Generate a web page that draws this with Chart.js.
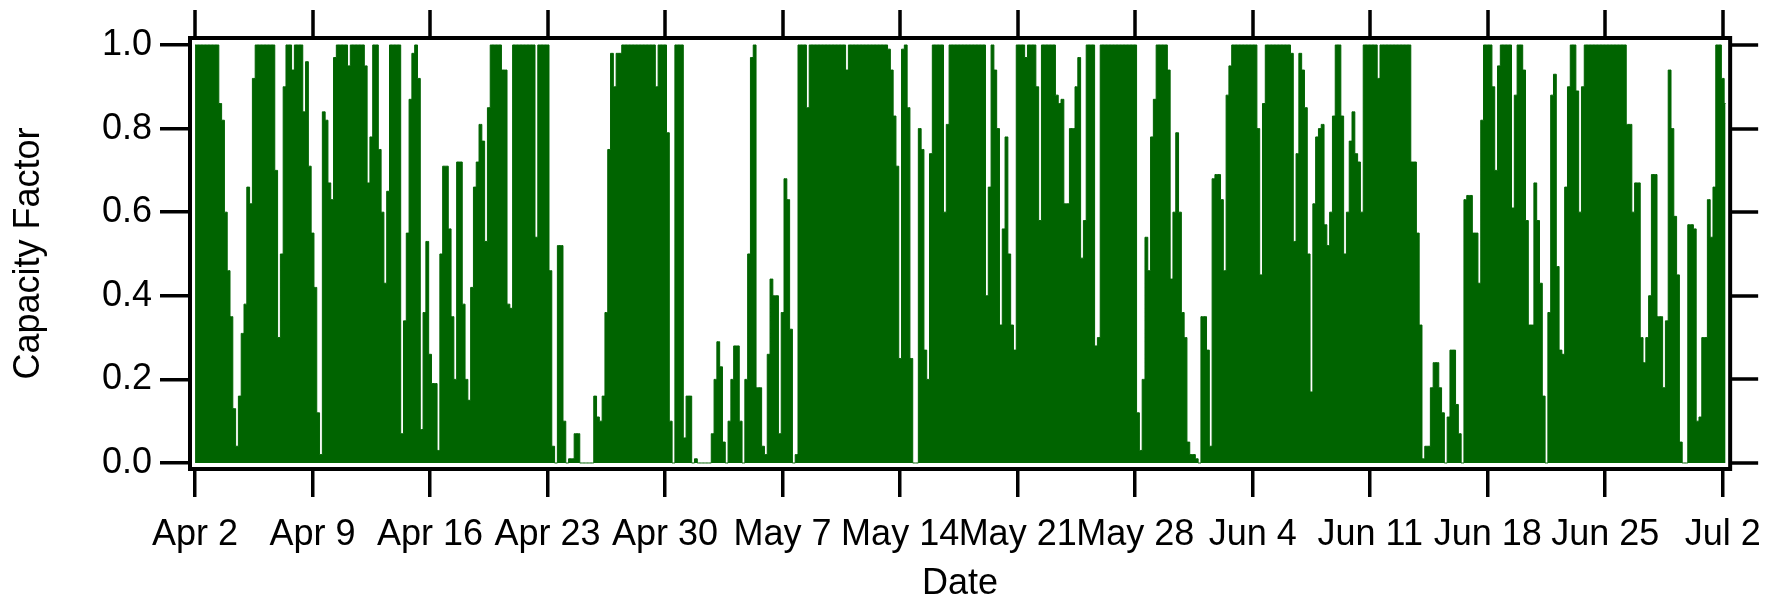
<!DOCTYPE html>
<html>
<head>
<meta charset="utf-8">
<title>Capacity Factor</title>
<script src="https://cdn.jsdelivr.net/npm/chart.js@4.4.1/dist/chart.umd.min.js"></script>
<style>
html,body{margin:0;padding:0;background:#fff;}
#wrap{width:1777px;height:600px;position:relative;}
</style>
</head>
<body>
<div id="wrap"><canvas id="cfChart"></canvas></div>
<script>
// 4-hourly samples starting Apr 2 00:00, one day per row
const stepDays=1/6;
const tickDays=[0,7,14,21,28,35,42,49,56,63,70,77,84,91];
const tickLabels=['Apr 2','Apr 9','Apr 16','Apr 23','Apr 30','May 7','May 14','May 21','May 28','Jun 4','Jun 11','Jun 18','Jun 25','Jul 2'];
const yTicks=[0,0.2,0.4,0.6,0.8,1.0];
const capacityFactor=[
1,1,1,1,1,1,
1,1,1,0.86,0.82,0.6,
0.46,0.35,0.13,0.04,0.16,0.31,
0.38,0.66,0.62,0.92,1,1,
1,1,1,1,1,0.7,
0.3,0.5,0.9,1,1,0.94,
1,1,1,0.84,0.96,0.71,
0.55,0.42,0.12,0.02,0.84,0.82,
0.67,0.63,0.97,1,1,1,
1,0.95,1,1,1,1,
1,0.95,0.67,0.78,1,1,
0.75,0.6,0.43,0.65,1,1,
1,1,0.07,0.34,0.55,0.87,
0.98,1,0.92,0.08,0.36,0.53,
0.26,0.19,0.19,0.03,0.5,0.71,
0.71,0.56,0.35,0.2,0.72,0.72,
0.38,0.2,0.15,0.42,0.66,0.72,
0.81,0.77,0.53,0.85,1,1,
1,1,0.94,0.94,0.38,0.37,
1,1,1,1,1,1,
1,1,0.54,1,1,1,
1,0.46,0.04,0,0.52,0.52,
0.1,0,0.01,0.01,0.07,0.07,
0,0,0,0,0,0.16,
0.11,0.1,0.16,0.36,0.75,0.98,
0.9,0.98,0.98,1,1,1,
1,1,1,1,1,1,
1,1,1,0.9,1,1,
1,0.79,0.1,0,1,1,
1,0.06,0.16,0.16,0,0.01,
0,0,0,0,0,0.07,
0.2,0.29,0.23,0.05,0,0.1,
0.2,0.28,0.28,0.1,0,0.2,
0.5,0.97,1,0.18,0.18,0.04,
0.02,0.26,0.44,0.4,0.4,0.07,
0.36,0.68,0.63,0.32,0,0.02,
1,1,1,0.85,1,1,
1,1,1,1,1,1,
1,1,1,1,1,0.94,
1,1,1,1,1,1,
1,1,1,1,1,1,
1,1,0.99,0.94,0.83,0.71,
0.25,0.99,1,0.85,0.25,0,
0,0.8,0.75,0.27,0.2,0.74,
1,1,1,1,0.6,0.81,
1,1,1,1,1,1,
1,1,1,1,1,1,
1,0.4,0.66,1,0.94,0.8,
0.33,0.56,0.78,0.5,0.33,0.27,
1,1,1,0.97,1,1,
1,0.9,0.58,1,1,1,
1,1,0.88,0.86,0.87,0.62,
0.62,0.8,0.8,0.9,0.97,0.49,
0.58,1,1,1,0.28,0.3,
1,1,1,1,1,1,
1,1,1,1,1,1,
1,0.12,0.03,0.2,0.54,0.46,
0.78,0.87,1,1,1,1,
0.94,0.44,0.6,0.79,0.6,0.36,
0.3,0.05,0.02,0.02,0.01,0,
0.35,0.35,0.27,0.04,0.68,0.69,
0.69,0.63,0.46,0.88,0.95,1,
1,1,1,1,1,1,
1,1,0.8,0.45,0.86,1,
1,1,1,1,1,1,
1,1,0.98,0.53,0.74,0.98,
0.94,0.85,0.5,0.17,0.62,0.78,
0.8,0.81,0.57,0.52,0.6,0.83,
1,1,0.83,0.5,0.6,0.77,
0.84,0.74,0.72,0.6,1,1,
1,1,1,0.92,1,1,
1,1,1,1,1,1,
1,1,1,0.72,0.72,0.55,
0.33,0.01,0.04,0.04,0.18,0.24,
0.24,0.18,0.12,0,0.11,0.27,
0.27,0.14,0.07,0,0.63,0.64,
0.64,0.55,0.55,0.43,0.82,1,
1,1,0.9,0.7,0.95,1,
1,1,1,0.61,0.88,1,
1,0.94,0.58,0.33,0.33,0.67,
0.58,0.43,0.16,0,0.36,0.88,
0.93,0.47,0.27,0.26,0.66,0.9,
1,1,0.89,0.6,0.9,1,
1,1,1,1,1,1,
1,1,1,1,1,1,
1,1,0.81,0.81,0.6,0.67,
0.67,0.3,0.24,0.3,0.4,0.69,
0.69,0.35,0.35,0.18,0.34,0.94,
0.8,0.59,0.45,0.05,0,0,
0.57,0.57,0.56,0.1,0.11,0.3,
0.3,0.63,0.54,0.66,1,1,
0.92,0.86
];

const fillColor='#006400';
const tickLen=28;

// closes the box on top/right and mirrors the tick marks there
const mirrorFrame={
    id:'mirrorFrame',
    afterDraw(chart){
        const {ctx,chartArea:a,scales:{x,y}}=chart;
        ctx.save();
        ctx.strokeStyle='#000';
        ctx.lineWidth=4;
        ctx.beginPath();
        ctx.moveTo(a.left-2,a.top);
        ctx.lineTo(a.right,a.top);
        ctx.lineTo(a.right,a.bottom+2);
        ctx.stroke();
        ctx.lineWidth=3.5;
        ctx.beginPath();
        tickDays.forEach(d=>{const px=Math.round(x.getPixelForValue(d));ctx.moveTo(px,a.top);ctx.lineTo(px,a.top-tickLen);});
        yTicks.forEach(v=>{const py=Math.round(y.getPixelForValue(v));ctx.moveTo(a.right,py);ctx.lineTo(a.right+tickLen,py);});
        ctx.stroke();
        ctx.restore();
    }
};

Chart.defaults.font.family="'Liberation Sans', Arial, sans-serif";
Chart.defaults.font.size=36;
Chart.defaults.color='#000';

new Chart(document.getElementById('cfChart'),{
    type:'line',
    data:{datasets:[{
        data:capacityFactor.map((v,i)=>({x:i*stepDays,y:v})),
        borderColor:fillColor,
        backgroundColor:fillColor,
        borderWidth:1,
        fill:'origin',
        stepped:'middle',
        pointRadius:0
    }]},
    options:{
        responsive:true,
        maintainAspectRatio:false,
        animation:false,
        devicePixelRatio:1,
        layout:{padding:{top:38,right:44,left:0,bottom:0}},
        plugins:{legend:{display:false},tooltip:{enabled:false}},
        scales:{
            x:{
                type:'linear',min:-0.3,max:91.44,
                afterBuildTicks:s=>{s.ticks=tickDays.map(v=>({value:v}));},
                afterFit:s=>{s.height=131;},
                ticks:{autoSkip:false,maxRotation:0,minRotation:0,padding:16,callback:(v,i)=>tickLabels[i]},
                grid:{drawOnChartArea:false,drawTicks:true,tickLength:tickLen,color:'#000',lineWidth:3.5},
                border:{display:true,color:'#000',width:4},
                title:{display:true,text:'Date',font:{size:36,lineHeight:0.9},padding:{top:0,bottom:0}}
            },
            y:{
                min:-0.0144,max:1.0167,
                afterBuildTicks:s=>{s.ticks=yTicks.map(v=>({value:v}));},
                afterFit:s=>{s.width=190;},
                ticks:{padding:8,callback:v=>v.toFixed(1)},
                grid:{drawOnChartArea:false,drawTicks:true,tickLength:tickLen+2,color:'#000',lineWidth:3.5},
                border:{display:true,color:'#000',width:4},
                title:{display:true,text:'Capacity Factor',font:{size:36,lineHeight:1},padding:{top:11,bottom:0}}
            }
        }
    },
    plugins:[mirrorFrame]
});
</script>
</body>
</html>
